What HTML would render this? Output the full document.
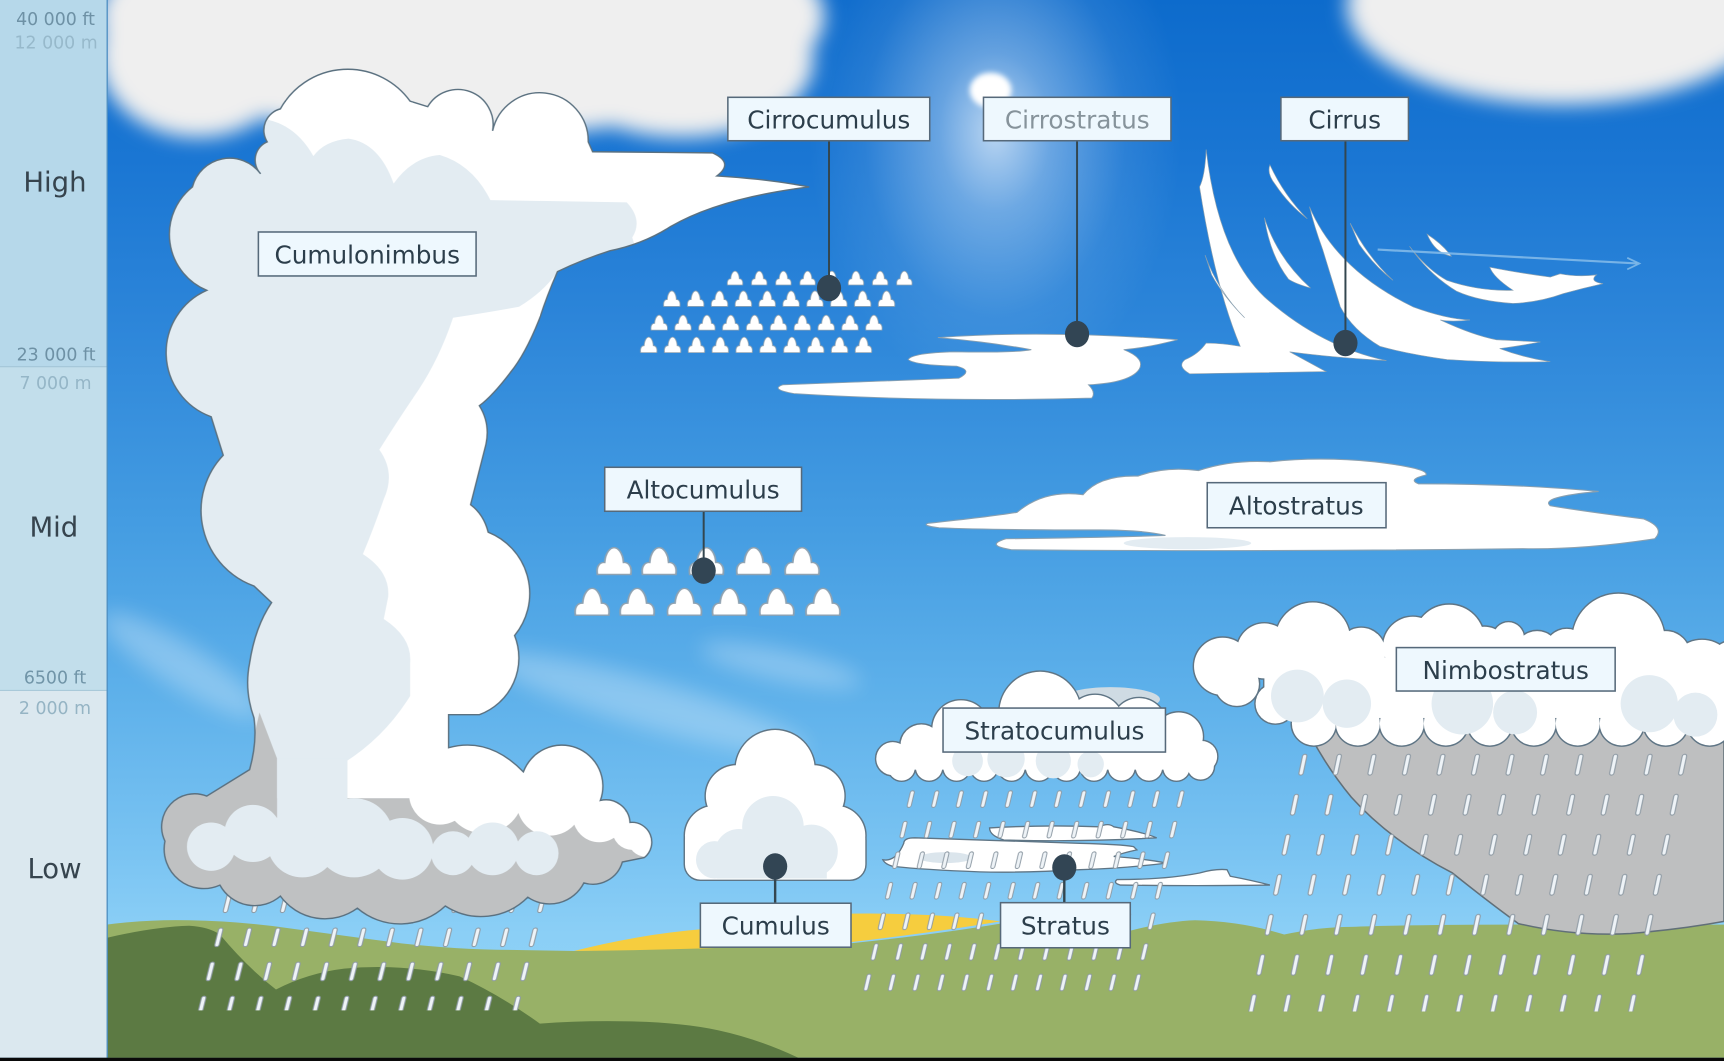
<!DOCTYPE html>
<html><head><meta charset="utf-8">
<style>html,body{margin:0;padding:0;background:#8dd0f7;overflow:hidden}svg{display:block}</style>
</head>
<body>
<svg xmlns="http://www.w3.org/2000/svg" width="1724" height="1061" viewBox="0 0 1568 965" preserveAspectRatio="none">
<defs>
  <linearGradient id="sky" x1="0" y1="0" x2="0" y2="965" gradientUnits="userSpaceOnUse">
    <stop offset="0" stop-color="#0d6bcc"/>
    <stop offset="0.15" stop-color="#1a76d3"/>
    <stop offset="0.3" stop-color="#2c85d9"/>
    <stop offset="0.5" stop-color="#459de2"/>
    <stop offset="0.65" stop-color="#5db0ea"/>
    <stop offset="0.8" stop-color="#79c3f2"/>
    <stop offset="0.88" stop-color="#8bcff6"/>
    <stop offset="1" stop-color="#8fd3f8"/>
  </linearGradient>
  <radialGradient id="glow" cx="0.5" cy="0.5" r="0.5">
    <stop offset="0" stop-color="#fff" stop-opacity="0.7"/>
    <stop offset="0.3" stop-color="#fff" stop-opacity="0.35"/>
    <stop offset="0.7" stop-color="#fff" stop-opacity="0.08"/>
    <stop offset="1" stop-color="#fff" stop-opacity="0"/>
  </radialGradient>
  <filter id="blurBig" filterUnits="userSpaceOnUse" x="-200" y="-200" width="2000" height="1400"><feGaussianBlur stdDeviation="9"/></filter>
  <filter id="blurS" filterUnits="userSpaceOnUse" x="-200" y="-200" width="2000" height="1400"><feGaussianBlur stdDeviation="10"/></filter>
  <filter id="blurSun" filterUnits="userSpaceOnUse" x="800" y="0" width="200" height="200"><feGaussianBlur stdDeviation="2.5"/></filter>

  <symbol id="puff" viewBox="0 0 100 100" preserveAspectRatio="none" overflow="visible">
    <path d="M4,98 C0,70 10,55 24,56 C26,20 40,4 50,4 C60,4 74,20 76,56 C90,55 100,70 96,98 Z" fill="#fff" stroke="#8ea2b2" stroke-width="5"/>
  </symbol>

  <pattern id="rA" patternUnits="userSpaceOnUse" width="26" height="31" patternTransform="translate(188.4,843) skewX(-14)">
    <line x1="13" y1="3" x2="13" y2="16" stroke="#8e9aa4" stroke-width="5" stroke-linecap="round"/>
    <line x1="13" y1="3" x2="13" y2="16" stroke="#eef3f7" stroke-width="3" stroke-linecap="round"/>
  </pattern>
  <pattern id="rB" patternUnits="userSpaceOnUse" width="22.3" height="27.8" patternTransform="translate(819.4,718) skewX(-13.3)">
    <line x1="11" y1="3" x2="11" y2="14.5" stroke="#8e9aa4" stroke-width="4.6" stroke-linecap="round"/>
    <line x1="11" y1="3" x2="11" y2="14.5" stroke="#eef3f7" stroke-width="2.8" stroke-linecap="round"/>
  </pattern>
  <pattern id="rC" patternUnits="userSpaceOnUse" width="31.4" height="36.4" patternTransform="translate(1171.5,685) skewX(-11.9)">
    <line x1="15.7" y1="3" x2="15.7" y2="18" stroke="#8e9aa4" stroke-width="5" stroke-linecap="round"/>
    <line x1="15.7" y1="3" x2="15.7" y2="18" stroke="#eef3f7" stroke-width="3" stroke-linecap="round"/>
  </pattern>

  <clipPath id="cbClip">
    <path d="M243,129 A20,20 0 0 1 255,99 A70,70 0 0 1 373,92 L389,97 A32,32 0 0 1 448,119 A44,44 0 0 1 535,129 L539,138 L648,139 Q668,148 652,160 Q700,163 736,170 Q655,180 610,206 Q585,222 555,228 Q530,236 507,247 Q497,270 491,289 Q478,322 464,339 Q448,360 436,369 Q446,385 442,404 L428,459 Q440,468 444,484 A60,60 0 0 1 468,578 A55,55 0 0 1 436,650 L408,650 L408,680 Q445,670 476,702 A35,35 0 0 1 546,728 A22,22 0 0 1 573,748 A18,18 0 0 1 586,780 L566,784 A28,28 0 0 1 531,803 A35,35 0 0 1 480,816 A60,60 0 0 1 405,824 A60,60 0 0 1 325,826 A50,50 0 0 1 255,815 A36,36 0 0 1 200,805 A36,36 0 0 1 150,765 A30,30 0 0 1 188,724 L227,700 Q234,675 231,653 Q222,628 227,603 Q232,570 247,548 L231,533 A73,73 0 0 1 203,414 L192,379 A62,62 0 0 1 188,264 A55,55 0 0 1 175,170 A35,35 0 0 1 237,158 A18,18 0 0 1 243,129 Z"/>
  </clipPath>

  <g id="cuShape">
    <circle cx="705" cy="700" r="36"/>
    <circle cx="670" cy="724" r="28"/>
    <circle cx="740" cy="724" r="28"/>
    <circle cx="650" cy="760" r="27"/>
    <circle cx="760" cy="760" r="27"/>
    <circle cx="705" cy="745" r="40"/>
    <rect x="623" y="750" width="164" height="50" rx="14"/>
  </g>
  <g id="scShape">
    <circle cx="812" cy="690" r="15"/>
    <circle cx="838" cy="678" r="19"/>
    <circle cx="874" cy="663" r="26"/>
    <circle cx="946" cy="648" r="37"/>
    <circle cx="996" cy="658" r="26"/>
    <circle cx="1036" cy="660" r="25"/>
    <circle cx="1072" cy="670" r="22"/>
    <circle cx="1093" cy="688" r="14"/>
    <rect x="810" y="680" width="290" height="20"/>
    <circle cx="820" cy="698" r="12"/><circle cx="845" cy="698" r="12"/><circle cx="870" cy="698" r="12"/>
    <circle cx="895" cy="698" r="12"/><circle cx="920" cy="698" r="12"/><circle cx="945" cy="698" r="12"/>
    <circle cx="970" cy="698" r="12"/><circle cx="995" cy="698" r="12"/><circle cx="1020" cy="698" r="12"/>
    <circle cx="1045" cy="698" r="12"/><circle cx="1070" cy="698" r="12"/><circle cx="1092" cy="697" r="12"/>
  </g>
  <g id="nsShape">
    <circle cx="1112" cy="606" r="26"/>
    <circle cx="1150" cy="592" r="25"/>
    <circle cx="1194" cy="582" r="34"/>
    <circle cx="1238" cy="593" r="22"/>
    <circle cx="1285" cy="588" r="27"/>
    <circle cx="1318" cy="582" r="32"/>
    <circle cx="1350" cy="592" r="22"/>
    <circle cx="1372" cy="580" r="14"/>
    <circle cx="1398" cy="594" r="20"/>
    <circle cx="1425" cy="592" r="20"/>
    <circle cx="1472" cy="582" r="42"/>
    <circle cx="1515" cy="596" r="22"/>
    <circle cx="1548" cy="612" r="30"/>
    <circle cx="1580" cy="612" r="30"/>
    <rect x="1150" y="598" width="430" height="55"/>
    <circle cx="1125" cy="622" r="20"/>
    <circle cx="1160" cy="640" r="18"/>
    <circle cx="1195" cy="658" r="20"/><circle cx="1235" cy="658" r="20"/><circle cx="1275" cy="658" r="20"/>
    <circle cx="1315" cy="658" r="20"/><circle cx="1355" cy="658" r="20"/><circle cx="1395" cy="658" r="20"/>
    <circle cx="1435" cy="658" r="20"/><circle cx="1475" cy="658" r="20"/><circle cx="1515" cy="658" r="20"/>
    <circle cx="1555" cy="658" r="20"/>
  </g>
</defs>

<!-- sky -->
<rect x="0" y="0" width="1568" height="965" fill="url(#sky)"/>
<ellipse cx="905" cy="120" rx="170" ry="240" fill="url(#glow)"/>
<ellipse cx="901" cy="82" rx="19" ry="16" fill="#fff" filter="url(#blurSun)"/>

<!-- fuzzy background clouds -->
<g filter="url(#blurBig)" fill="#efefef">
  <ellipse cx="420" cy="15" rx="330" ry="110"/>
  <ellipse cx="180" cy="50" rx="90" ry="75"/>
  <ellipse cx="620" cy="55" rx="120" ry="70"/>
  <ellipse cx="1420" cy="5" rx="195" ry="90"/>
</g>
<g filter="url(#blurS)" fill="#fff" opacity="0.28">
  <ellipse cx="165" cy="605" rx="85" ry="20" transform="rotate(32 165 605)"/>
  <ellipse cx="590" cy="640" rx="150" ry="22" transform="rotate(16 590 640)"/>
  <ellipse cx="710" cy="605" rx="75" ry="14" transform="rotate(12 710 605)"/>
</g>

<!-- ground -->
<path d="M97,841 Q135,836 172,837 Q220,838 261,844 Q320,852 365,858 Q420,864 470,864 L522,865 Q650,862 773,858 Q850,850 910,840 Q970,845 1026,847 Q1060,838 1087,837 Q1130,838 1168,850 Q1200,843 1229,843 Q1300,840 1568,841 L1568,962 L97,962 Z" fill="#98b167"/>
<path d="M522,865 Q580,850 640,845 Q700,836 773,831 Q850,830 910,838 Q850,848 773,857 Q640,864 522,865 Z" fill="#f6cd3e"/>
<path d="M97,853 Q140,843 172,842 Q190,843 200,850 Q225,880 251,900 Q280,885 313,881 Q365,876 418,888 Q455,905 491,931 Q530,928 574,929 Q620,930 653,937 Q690,945 726,962 L97,962 Z" fill="#5c7a43"/>

<!-- cumulonimbus rain -->
<polygon points="196,808 509,808 481,919 168,919" fill="url(#rA)"/>

<!-- cumulonimbus -->
<g clip-path="url(#cbClip)">
  <rect x="130" y="50" width="620" height="800" fill="#e3ecf2"/>
  <path d="M235,40 L780,40 L780,265 L590,265 L575,216 Q585,200 570,184 L446,182 Q430,150 400,141 Q375,143 358,167 Q345,130 317,126 Q295,128 285,142 Q270,115 244,109 Z" fill="#fff"/>
  <path d="M412,289 Q445,284 472,279 Q495,265 507,247 L620,247 L620,726 L314,726 L314,693 Q350,670 373,633 L373,603 Q375,580 349,563 L353,543 Q355,520 330,504 Q340,480 349,454 Q360,430 345,409 Q360,385 381,354 Q400,325 412,289 Z" fill="#fff"/>
  <path d="M140,726 L224,700 L236,648 L252,690 L252,726 L620,726 L620,845 L140,845 Z" fill="#bfc1c2"/>
  <g fill="#e3ecf2">
    <rect x="252" y="690" width="64" height="75"/>
    <circle cx="192" cy="770" r="22"/>
    <circle cx="230" cy="758" r="26"/>
    <circle cx="275" cy="766" r="32"/>
    <circle cx="322" cy="762" r="36"/>
    <circle cx="366" cy="772" r="28"/>
  </g>
  <g fill="#fff">
    <circle cx="400" cy="722" r="28"/>
    <circle cx="440" cy="722" r="36"/>
    <circle cx="500" cy="730" r="30"/>
    <circle cx="545" cy="742" r="24"/>
    <circle cx="575" cy="755" r="18"/>
    <circle cx="587" cy="763" r="16"/>
  </g>
  <g fill="#e3ecf2">
    <circle cx="412" cy="776" r="20"/>
    <circle cx="448" cy="772" r="24"/>
    <circle cx="488" cy="776" r="20"/>
  </g>
</g>
<path d="M243,129 A20,20 0 0 1 255,99 A70,70 0 0 1 373,92 L389,97 A32,32 0 0 1 448,119 A44,44 0 0 1 535,129 L539,138 L648,139 Q668,148 652,160 Q700,163 736,170 Q655,180 610,206 Q585,222 555,228 Q530,236 507,247 Q497,270 491,289 Q478,322 464,339 Q448,360 436,369 Q446,385 442,404 L428,459 Q440,468 444,484 A60,60 0 0 1 468,578 A55,55 0 0 1 436,650 L408,650 L408,680 Q445,670 476,702 A35,35 0 0 1 546,728 A22,22 0 0 1 573,748 A18,18 0 0 1 586,780 L566,784 A28,28 0 0 1 531,803 A35,35 0 0 1 480,816 A60,60 0 0 1 405,824 A60,60 0 0 1 325,826 A50,50 0 0 1 255,815 A36,36 0 0 1 200,805 A36,36 0 0 1 150,765 A30,30 0 0 1 188,724 L227,700 Q234,675 231,653 Q222,628 227,603 Q232,570 247,548 L231,533 A73,73 0 0 1 203,414 L192,379 A62,62 0 0 1 188,264 A55,55 0 0 1 175,170 A35,35 0 0 1 237,158 A18,18 0 0 1 243,129 Z" fill="none" stroke="#5b7180" stroke-width="1.3"/>

<!-- cirrocumulus -->
<g>
  <use href="#puff" x="661" y="246" width="15" height="13.5"/>
  <use href="#puff" x="683" y="246" width="15" height="13.5"/>
  <use href="#puff" x="705" y="246" width="15" height="13.5"/>
  <use href="#puff" x="727" y="246" width="15" height="13.5"/>
  <use href="#puff" x="749" y="246" width="15" height="13.5"/>
  <use href="#puff" x="771" y="246" width="15" height="13.5"/>
  <use href="#puff" x="793" y="246" width="15" height="13.5"/>
  <use href="#puff" x="815" y="246" width="15" height="13.5"/>

  <use href="#puff" x="603" y="264" width="16" height="15"/>
  <use href="#puff" x="624.7" y="264" width="16" height="15"/>
  <use href="#puff" x="646.4" y="264" width="16" height="15"/>
  <use href="#puff" x="668.1" y="264" width="16" height="15"/>
  <use href="#puff" x="689.8" y="264" width="16" height="15"/>
  <use href="#puff" x="711.5" y="264" width="16" height="15"/>
  <use href="#puff" x="733.2" y="264" width="16" height="15"/>
  <use href="#puff" x="754.9" y="264" width="16" height="15"/>
  <use href="#puff" x="776.6" y="264" width="16" height="15"/>
  <use href="#puff" x="798.3" y="264" width="16" height="15"/>

  <use href="#puff" x="591.5" y="286" width="16" height="14.5"/>
  <use href="#puff" x="613.2" y="286" width="16" height="14.5"/>
  <use href="#puff" x="634.9" y="286" width="16" height="14.5"/>
  <use href="#puff" x="656.6" y="286" width="16" height="14.5"/>
  <use href="#puff" x="678.3" y="286" width="16" height="14.5"/>
  <use href="#puff" x="700" y="286" width="16" height="14.5"/>
  <use href="#puff" x="721.7" y="286" width="16" height="14.5"/>
  <use href="#puff" x="743.4" y="286" width="16" height="14.5"/>
  <use href="#puff" x="765.1" y="286" width="16" height="14.5"/>
  <use href="#puff" x="786.8" y="286" width="16" height="14.5"/>

  <use href="#puff" x="582" y="306" width="16" height="15"/>
  <use href="#puff" x="603.7" y="306" width="16" height="15"/>
  <use href="#puff" x="625.4" y="306" width="16" height="15"/>
  <use href="#puff" x="647.1" y="306" width="16" height="15"/>
  <use href="#puff" x="668.8" y="306" width="16" height="15"/>
  <use href="#puff" x="690.5" y="306" width="16" height="15"/>
  <use href="#puff" x="712.2" y="306" width="16" height="15"/>
  <use href="#puff" x="733.9" y="306" width="16" height="15"/>
  <use href="#puff" x="755.6" y="306" width="16" height="15"/>
  <use href="#puff" x="777.3" y="306" width="16" height="15"/>
</g>

<!-- cirrostratus -->
<path d="M853,307 Q950,300 1071,309 Q1045,316 1022,318 Q1042,326 1036,336 Q1028,348 990,350 Q997,357 993,362 Q850,366 722,358 Q700,354 712,350 Q800,347 872,344 Q886,337 870,333 Q832,332 826,327 Q830,321 868,320 Q925,321 938,318 Q900,311 853,307 Z" fill="#fff" stroke="#8aa0b0" stroke-width="0.8"/>

<!-- cirrus -->
<g fill="#fff" stroke="#8aa0b0" stroke-width="0.6">
  <path d="M1097,136 Q1108,230 1150,270 Q1200,315 1261,328 Q1210,325 1173,320 Q1195,332 1206,338 L1082,340 Q1070,333 1078,327 Q1090,322 1097,312 Q1112,312 1128,315 Q1105,260 1091,170 Q1096,160 1097,136 Z"/>
  <path d="M1096,232 Q1108,265 1132,289 Q1113,270 1102,250 Z"/>
  <path d="M1155,150 Q1168,178 1189,199 Q1172,186 1160,168 Q1152,158 1155,150 Z"/>
  <path d="M1150,198 Q1162,235 1192,262 Q1178,258 1172,254 Q1155,232 1150,198 Z"/>
  <path d="M1191,188 Q1215,245 1285,279 Q1315,290 1337,291 Q1320,293 1310,291 Q1340,305 1361,309 Q1380,310 1401,311 Q1380,315 1364,317 Q1385,325 1410,329 Q1360,330 1316,327 Q1280,322 1255,315 Q1230,300 1219,279 Q1210,250 1203,227 Q1195,205 1191,188 Z"/>
  <path d="M1228,203 Q1245,235 1267,255 Q1250,242 1236,222 Z"/>
  <path d="M1282,224 Q1298,245 1316,255 Q1345,265 1376,264 Q1358,252 1355,243 Q1380,248 1410,252 L1419,249 Q1435,252 1452,250 Q1445,256 1458,258 Q1440,262 1422,267 Q1400,275 1376,276 Q1345,274 1325,265 Q1300,250 1282,224 Z"/>
  <path d="M1298,213 Q1312,222 1320,233 Q1305,230 1298,213 Z"/>
</g>
<line x1="1253" y1="227" x2="1489" y2="239.6" stroke="#86bdea" stroke-width="2" opacity="0.85"/>
<polyline points="1480,234.5 1491,239.7 1480,245" fill="none" stroke="#86bdea" stroke-width="1.6" opacity="0.85"/>

<!-- altocumulus -->
<g>
  <use href="#puff" x="542" y="497" width="33" height="26"/>
  <use href="#puff" x="583" y="497" width="33" height="26"/>
  <use href="#puff" x="626" y="497" width="33" height="26"/>
  <use href="#puff" x="669" y="497" width="33" height="26"/>
  <use href="#puff" x="713" y="497" width="33" height="26"/>
  <use href="#puff" x="522" y="534" width="33" height="26"/>
  <use href="#puff" x="563" y="534" width="33" height="26"/>
  <use href="#puff" x="606" y="534" width="33" height="26"/>
  <use href="#puff" x="647" y="534" width="33" height="26"/>
  <use href="#puff" x="690" y="534" width="33" height="26"/>
  <use href="#puff" x="732" y="534" width="33" height="26"/>
</g>

<!-- altostratus -->
<path d="M844,476 Q900,470 925,466 Q950,445 985,450 Q1000,432 1035,433 Q1060,424 1090,428 Q1120,418 1155,420 Q1200,415 1250,420 Q1300,426 1297,432 Q1280,436 1290,440 Q1380,440 1454,447 Q1400,452 1410,460 Q1440,465 1495,472 Q1515,480 1505,490 Q1440,500 1385,499 Q1150,502 920,500 Q895,496 915,490 Q1000,489 1060,487 Q1040,482 1000,482 Q900,482 854,480 Q838,478 844,476 Z" fill="#fff" stroke="#8aa0b0" stroke-width="1"/>
<ellipse cx="1080" cy="494" rx="58" ry="5.5" fill="#e3ecf2"/>

<!-- cumulus -->
<use href="#cuShape" fill="#fff" stroke="#5f7585" stroke-width="2.6"/>
<use href="#cuShape" fill="#fff"/>
<g fill="#e3ecf2">
  <circle cx="703" cy="752" r="28"/>
  <circle cx="672" cy="776" r="22"/>
  <circle cx="738" cy="774" r="24"/>
  <circle cx="650" cy="782" r="17"/>
  <rect x="652" y="770" width="100" height="29"/>
</g>

<!-- stratocumulus -->
<ellipse cx="1010" cy="636" rx="45" ry="11" fill="#cfdbe3"/>
<use href="#scShape" fill="#fff" stroke="#5f7585" stroke-width="2.6"/>
<use href="#scShape" fill="#fff"/>
<g fill="#e3ecf2">
  <circle cx="880" cy="692" r="14"/>
  <circle cx="915" cy="690" r="17"/>
  <circle cx="958" cy="692" r="16"/>
  <circle cx="992" cy="695" r="12"/>
</g>

<!-- stratus -->
<g fill="#fff" stroke="#5f7585" stroke-width="1.2">
  <path d="M900,753 Q950,750 1000,752 Q1008,748 1013,752 Q1040,757 1052,762 Q980,766 913,764 Q900,760 900,753 Z"/>
  <path d="M803,782 Q815,784 822,767 Q822,762 832,762 Q900,764 982,767 Q1020,768 1031,770 L1034,773 Q1020,776 1013,779 Q1040,781 1061,785 Q1020,790 982,791 Q930,794 891,793 Q840,791 812,788 Q805,786 803,782 Z"/>
  <path d="M1016,800 Q1060,800 1091,794 Q1105,790 1116,791 Q1118,795 1119,797 Q1140,801 1155,805 Q1090,806 1019,805 Q1012,803 1016,800 Z"/>
</g>
<ellipse cx="860" cy="780" rx="24" ry="5" fill="#dbe5ec"/>
<polygon points="820.3,714 1087.6,714 1042.2,905 774.9,905" fill="url(#rB)"/>

<!-- nimbostratus -->
<path d="M1180,645 Q1200,690 1229,725 Q1265,765 1321,794 Q1356,822 1381,840 Q1432,852 1483,849 Q1530,845 1568,838 L1568,640 Z" fill="#bebfc0" stroke="#616f78" stroke-width="1.4"/>
<use href="#nsShape" fill="#fff" stroke="#5f7585" stroke-width="2.6"/>
<use href="#nsShape" fill="#fff"/>
<g fill="#e3ecf2">
  <circle cx="1180" cy="633" r="24"/>
  <circle cx="1225" cy="640" r="22"/>
  <circle cx="1330" cy="640" r="28"/>
  <circle cx="1378" cy="648" r="20"/>
  <circle cx="1500" cy="640" r="26"/>
  <circle cx="1542" cy="650" r="20"/>
</g>
<polygon points="1175,682 1545,682 1495,920 1125,920" fill="url(#rC)"/>

<!-- connectors -->
<g stroke="#33464f" stroke-width="1.8">
  <line x1="754" y1="128" x2="754" y2="262"/>
  <line x1="979.6" y1="128" x2="979.6" y2="303.8"/>
  <line x1="1223.7" y1="128" x2="1223.7" y2="312"/>
  <line x1="640" y1="465" x2="640" y2="519"/>
  <line x1="705" y1="788" x2="705" y2="822" stroke-width="2.2"/>
  <line x1="968" y1="789" x2="968" y2="822" stroke-width="2.2"/>
</g>
<g fill="#324554">
  <ellipse cx="754" cy="262" rx="11" ry="12"/>
  <ellipse cx="979.6" cy="303.8" rx="11" ry="12"/>
  <ellipse cx="1223.7" cy="312" rx="11" ry="12"/>
  <ellipse cx="640" cy="519" rx="11" ry="12"/>
  <ellipse cx="705" cy="788" rx="11" ry="12"/>
  <ellipse cx="968" cy="789" rx="11" ry="12"/>
</g>

<!-- labels -->
<g fill="#eef8fe" stroke="#56697a" stroke-width="1.4">
  <rect x="235" y="211" width="198" height="40"/>
  <rect x="662" y="88.5" width="183.6" height="39.5"/>
  <rect x="894.5" y="88.5" width="170.5" height="39.5"/>
  <rect x="1165" y="88.5" width="116" height="39.5"/>
  <rect x="550" y="425" width="179" height="40"/>
  <rect x="1098" y="439" width="162.6" height="41"/>
  <rect x="1270" y="589" width="199" height="39.5"/>
  <rect x="857.7" y="644" width="202.3" height="40"/>
  <rect x="910" y="821" width="118" height="41"/>
  <rect x="637" y="821.5" width="137" height="40"/>
</g>
<g font-family="'DejaVu Sans','Liberation Sans',sans-serif" font-size="22.5" fill="#2c3e4b" text-anchor="middle">
  <text x="334" y="239.5">Cumulonimbus</text>
  <text x="753.8" y="117">Cirrocumulus</text>
  <text x="979.8" y="117" fill="#86939b">Cirrostratus</text>
  <text x="1223" y="117">Cirrus</text>
  <text x="639.5" y="453.5">Altocumulus</text>
  <text x="1179" y="468">Altostratus</text>
  <text x="1369.5" y="617.5">Nimbostratus</text>
  <text x="959" y="672.5">Stratocumulus</text>
  <text x="969" y="850">Stratus</text>
  <text x="705.5" y="850">Cumulus</text>
</g>

<!-- left panel -->
<rect x="0" y="0" width="97.5" height="333.5" fill="#b6d8ea"/>
<rect x="0" y="333.5" width="97.5" height="294.5" fill="#c2deeb"/>
<rect x="0" y="628" width="97.5" height="334" fill="#dbe8ef"/>
<line x1="0" y1="333.5" x2="97" y2="333.5" stroke="#a3c6d8" stroke-width="1"/>
<line x1="0" y1="628" x2="97" y2="628" stroke="#a9c9d9" stroke-width="1"/>
<line x1="97.5" y1="0" x2="97.5" y2="962" stroke="#4f8fc2" stroke-width="1.2"/>
<g font-family="'DejaVu Sans','Liberation Sans',sans-serif" text-anchor="middle">
  <text x="50.5" y="22.7" font-size="15.8" fill="#6e91a5">40 000 ft</text>
  <text x="51" y="44" font-size="15.8" fill="#97b9cb">12 000 m</text>
  <text x="50" y="174" font-size="25" fill="#36444e">High</text>
  <text x="51" y="328" font-size="15.8" fill="#6e91a5">23 000 ft</text>
  <text x="50.5" y="354" font-size="15.8" fill="#95b6c7">7 000 m</text>
  <text x="49" y="488" font-size="25" fill="#36444e">Mid</text>
  <text x="50" y="621.5" font-size="15.8" fill="#7195a8">6500 ft</text>
  <text x="50" y="649.5" font-size="15.8" fill="#95b4c4">2 000 m</text>
  <text x="49.6" y="798.6" font-size="25" fill="#36444e">Low</text>
</g>

<!-- bottom bar -->
<rect x="0" y="962" width="1568" height="3" fill="#0a0a0a"/>
</svg>
</body></html>
